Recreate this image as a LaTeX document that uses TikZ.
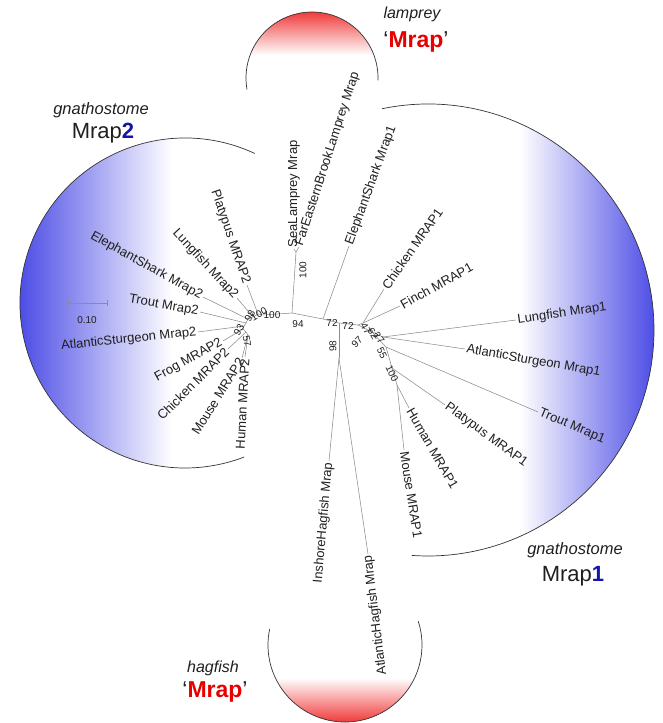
\documentclass[tikz,border=0pt]{standalone}
\usepackage{fontspec}
\setmainfont{Liberation Sans}
\definecolor{linec}{gray}{0.55}
\definecolor{txtc}{gray}{0.12}
\definecolor{arcc}{gray}{0.2}
\definecolor{bluec}{RGB}{75,75,230}
\definecolor{redc}{RGB}{240,50,50}
\definecolor{hdblue}{RGB}{20,20,170}
\definecolor{hdred}{RGB}{230,0,0}
\begin{document}
\begin{tikzpicture}[x=1pt,y=1pt,
  br/.style={draw=linec,line width=0.55pt},
  leafR/.style={font=\fontsize{13}{13}\selectfont,text=txtc,anchor=west,inner sep=1.5pt},
  leafL/.style={font=\fontsize{13}{13}\selectfont,text=txtc,anchor=east,inner sep=1.5pt},
  bs/.style={font=\fontsize{10}{10}\selectfont,text=txtc,inner sep=0pt},
  arcline/.style={draw=arcc,line width=0.7pt},
  hdit/.style={font=\fontsize{16.5}{17}\selectfont\itshape,text=txtc,inner sep=0pt},
  hdbig/.style={font=\fontsize{22}{22}\selectfont,text=txtc,inner sep=0pt}]
\useasboundingbox (0,0) rectangle (662,-723);

% shaded regions
\begin{scope}
\clip (185,-303) circle (165);
\shade[left color=bluec, right color=white] (18,-130) rectangle (172,-475);
\end{scope}
\begin{scope}
\clip (428,-330) circle (226);
\shade[left color=white, right color=bluec] (520,-100) rectangle (656,-560);
\end{scope}
\begin{scope}
\clip (312,-78) circle (66);
\shade[top color=redc, bottom color=white] (240,-10) rectangle (385,-55);
\end{scope}
\begin{scope}
\clip (345,-645) circle (77);
\shade[top color=white, bottom color=redc] (265,-678) rectangle (425,-724);
\end{scope}

% arcs
\draw[arcline] (185,-303) ++(65:165) arc[start angle=65,end angle=291,radius=165];
\draw[arcline] (428,-330) ++(101.7:226) arc[start angle=101.7,end angle=-94.1,radius=226];
\draw[arcline] (312,-78) ++(-2:66) arc[start angle=-2,end angle=190,radius=66];
\draw[arcline] (345,-645) ++(168:77) arc[start angle=168,end angle=378,radius=77];

% headers
\node[hdit] (g2) at (101,-110) {gnathostome};
\node[hdbig] (m2) at (103,-133) {Mrap\textbf{\color{hdblue}2}};
\node[hdit,font=\fontsize{16}{16}\selectfont\itshape] (lam) at (412,-14) {lamprey};
\node[hdbig,font=\fontsize{23}{23}\selectfont] (lamM) at (416,-42) {‘\textbf{\color{hdred}Mrap}’};
\node[hdit,font=\fontsize{16}{16}\selectfont\itshape] (hag) at (213,-668) {hagfish};
\node[hdbig,font=\fontsize{23}{23}\selectfont] (hagM) at (215,-692) {‘\textbf{\color{hdred}Mrap}’};
\node[hdit] (g1) at (575,-550) {gnathostome};
\node[hdbig] (m1) at (573,-576) {Mrap\textbf{\color{hdblue}1}};

% scale bar
\coordinate (sb1) at (68,-303);
\coordinate (sb2) at (107,-303);
\draw[br] (sb1) -- (sb2);
\draw[br] ([yshift=3pt]sb1) -- ([yshift=-3pt]sb1);
\draw[br] ([yshift=3pt]sb2) -- ([yshift=-3pt]sb2);
\node[bs] (sbl) at (87,-320) {0.10};

% internal nodes
\coordinate (A) at (292,-313);
\coordinate (L) at (296,-252);
\coordinate (M2) at (263,-315);
\coordinate (B) at (323,-319);
\coordinate (C) at (339,-323);
\coordinate (H) at (339,-358);
\coordinate (D) at (358,-325);
\coordinate (E) at (363,-323);
\coordinate (F) at (372,-332);
\coordinate (G) at (383,-337);
\coordinate (K) at (386,-347);
\coordinate (I) at (392,-368);
\coordinate (J) at (397,-385);
\coordinate (p1) at (258,-314);
\coordinate (p2) at (253,-317);
\coordinate (p3) at (248,-319);
\coordinate (p4) at (246,-323);
\coordinate (p5) at (244,-326);
\coordinate (p6) at (243,-329);
\coordinate (p7) at (246,-332);
\coordinate (p8) at (248,-335);

% leaves
\node[leafR,rotate=90] (sea) at (294,-249) {SeaLamprey Mrap};
\node[leafR,rotate=72] (far) at (299,-247) {FarEasternBrookLamprey Mrap};
\node[leafR,rotate=70] (es1) at (349,-246) {ElephantShark Mrap1};
\node[leafR,rotate=55] (ch1) at (384,-289) {Chicken MRAP1};
\node[leafR,rotate=29] (fi1) at (400,-306) {Finch MRAP1};
\node[leafR,rotate=8] (lu1) at (516,-320) {Lungfish Mrap1};
\node[leafR,rotate=-10] (st1) at (465,-349) {AtlanticSturgeon Mrap1};
\node[leafR,rotate=-23] (tr1) at (538,-412) {Trout Mrap1};
\node[leafR,rotate=-36] (pl1) at (445,-405) {Platypus MRAP1};
\node[leafR,rotate=-60] (hu1) at (409,-408) {Human MRAP1};
\node[leafR,rotate=-81] (mo1) at (404,-450) {Mouse MRAP1};
\node[leafL,rotate=85] (inh) at (329,-461) {InshoreHagfish Mrap};
\node[leafL,rotate=97] (ath) at (368,-554) {AtlanticHagfish Mrap};
\node[leafL,rotate=-71] (pl2) at (247,-285) {Platypus MRAP2};
\node[leafL,rotate=-47] (lu2) at (237,-298) {Lungfish Mrap2};
\node[leafL,rotate=-29] (es2) at (203,-297) {ElephantShark Mrap2};
\node[leafL,rotate=-10] (tr2) at (200,-312) {Trout Mrap2};
\node[leafL,rotate=6] (st2) at (198,-332) {AtlanticSturgeon Mrap2};
\node[leafL,rotate=29] (fr2) at (223,-341) {Frog MRAP2};
\node[leafL,rotate=45] (ch2) at (228,-349) {Chicken MRAP2};
\node[leafL,rotate=58] (mo2) at (242,-358) {Mouse MRAP2};
\node[leafL,rotate=87] (hu2) at (245,-357) {Human MRAP2};

% branches
\draw[br] (M2) -- (A) -- (B) -- (C) -- (D);
\draw[br] (A) -- (L);
\draw[br] (L) -- (sea.west);
\draw[br] (L) -- (far.west);
\draw[br] (B) -- (es1.west);
\draw[br] (C) -- (H);
\draw[br] (H) -- (inh.east);
\draw[br] (H) -- (ath.east);
\draw[br] (D) -- (E);
\draw[br] (E) -- (ch1.west);
\draw[br] (E) -- (fi1.west);
\draw[br] (D) -- (F);
\draw[br] (F) -- (G);
\draw[br] (G) -- (lu1.west);
\draw[br] (G) -- (st1.west);
\draw[br] (F) -- (K);
\draw[br] (K) -- (tr1.west);
\draw[br] (K) -- (I);
\draw[br] (I) -- (pl1.west);
\draw[br] (I) -- (J);
\draw[br] (J) -- (hu1.west);
\draw[br] (J) -- (mo1.west);
\draw[br] (M2) -- (p1) -- (p2) -- (p3) -- (p4) -- (p5) -- (p6) -- (p7) -- (p8);
\draw[br] (p1) -- (pl2.east);
\draw[br] (p2) -- (lu2.east);
\draw[br] (p3) -- (es2.east);
\draw[br] (p4) -- (tr2.east);
\draw[br] (p5) -- (st2.east);
\draw[br] (p6) -- (fr2.east);
\draw[br] (p7) -- (ch2.east);
\draw[br] (p8) -- (mo2.east);
\draw[br] (p8) -- (hu2.east);

% bootstrap values
\node[bs,rotate=90] (b1) at (303,-270) {100};
\node[bs] (b2) at (298,-324) {94};
\node[bs] (b3) at (332,-323) {72};
\node[bs] (b4) at (348,-326) {72};
\node[bs,rotate=90] (b5) at (333,-346) {98};
\node[bs,rotate=45] (b6) at (357,-342) {97};
\node[bs,rotate=-60] (b7) at (366,-329) {47};
\node[bs,rotate=-60] (b8) at (373,-334) {62};
\node[bs,rotate=-50] (b9) at (379,-338) {27};
\node[bs,rotate=-65] (b10) at (382,-353) {55};
\node[bs,rotate=-65] (b11) at (392,-374) {100};
\node[bs] (b12) at (272,-315) {100};
\node[bs,rotate=30] (b13) at (259,-314) {100};
\node[bs,rotate=60] (b14) at (250,-316) {98};
\node[bs,rotate=60] (b15) at (239,-330) {93};
\node[bs,rotate=-80] (b16) at (247,-341) {57};
\end{tikzpicture}
\end{document}
